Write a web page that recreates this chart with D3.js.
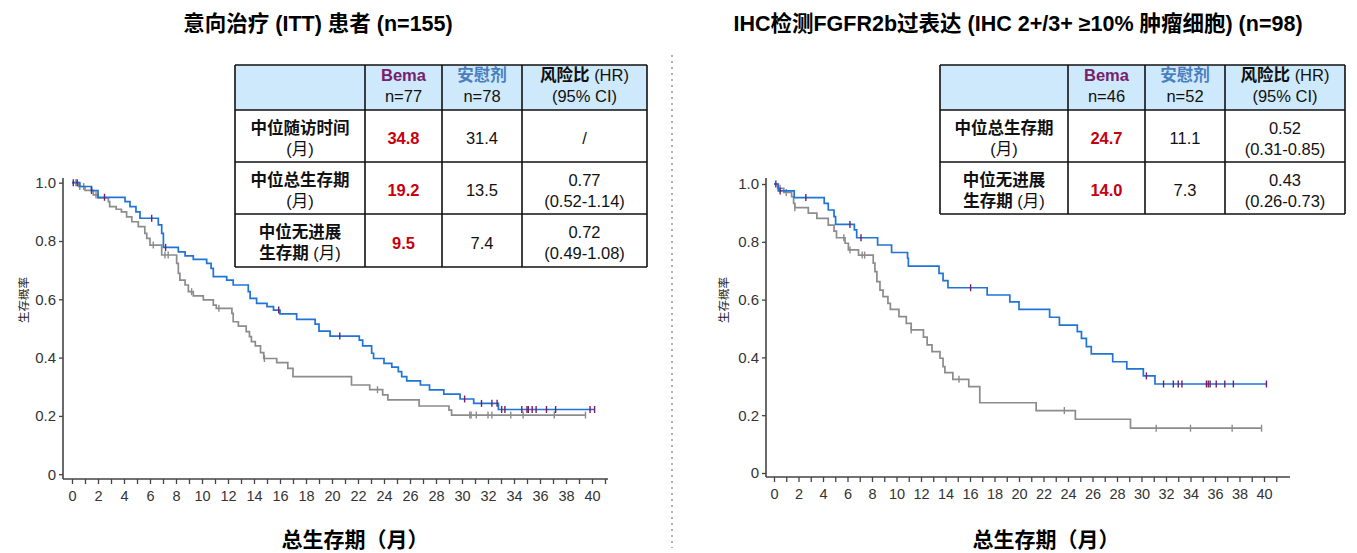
<!DOCTYPE html>
<html>
<head>
<meta charset="utf-8">
<title>总生存期 KM 曲线</title>
<script src="https://cdn.jsdelivr.net/npm/d3@7"></script>
<style>
body { margin: 0; background: #fff; }
text { font-family: "Liberation Sans", Arial, "Noto Sans CJK SC", sans-serif; }
</style>
</head>
<body>
<script>
// ---- data (months, survival probability) ----
var xTicks = d3.range(0, 42);
var yTicks = [0, 0.2, 0.4, 0.6, 0.8, 1.0];

var ittBemaSteps = [[0,1.0],[0.6,0.987],[1.5,0.973],[2.0,0.950],[4.08,0.935],[4.46,0.918],[4.92,0.900],
  [5.23,0.878],[6.64,0.855],[6.9,0.826],[7.03,0.778],[8.18,0.763],[8.7,0.749],[9.33,0.737],[10.36,0.723],
  [10.7,0.706],[10.87,0.678],[11.9,0.666],[12.4,0.649],[13.56,0.626],[13.7,0.603],[14.2,0.586],[15.0,0.575],
  [15.5,0.563],[16.0,0.55],[17.28,0.531],[18.7,0.515],[19.0,0.491],[19.85,0.474],[22.1,0.46],[22.36,0.44],
  [23.05,0.415],[23.2,0.397],[24.0,0.38],[24.6,0.367],[25.1,0.352],[25.36,0.335],[25.75,0.32],[26.8,0.306],
  [27.5,0.289],[28.6,0.275],[29.85,0.258],[30.9,0.243],[32.8,0.222]];
var ittBemaEnd = 40.2;
var ittBemaCensor = [0.1,0.4,1.5,2.5,6.13,7.2,15.9,20.6,30.2,31.5,32.3,32.7,33.05,33.3,34.6,35.0,35.1,35.4,
  35.7,36.5,37.2,39.85,40.2];

var ittPboSteps = [[0,1.0],[0.5,0.987],[1.0,0.974],[1.64,0.958],[2.0,0.948],[2.8,0.935],[2.9,0.918],[3.4,0.909],
  [3.8,0.90],[4.2,0.883],[4.6,0.866],[5.1,0.849],[5.6,0.826],[5.75,0.809],[6.0,0.786],[6.9,0.752],[8.05,0.723],
  [8.18,0.689],[8.3,0.666],[8.7,0.649],[8.95,0.626],[9.33,0.612],[10.1,0.598],[10.87,0.58],[11.1,0.569],
  [12.3,0.552],[12.4,0.523],[12.8,0.508],[13.4,0.489],[13.65,0.472],[13.8,0.455],[14.1,0.44],[14.5,0.417],
  [14.75,0.397],[15.75,0.383],[16.6,0.363],[17.0,0.335],[21.5,0.306],[22.9,0.29],[23.9,0.272],[24.3,0.255],
  [26.7,0.234],[29.0,0.22],[29.2,0.203]];
var ittPboEnd = 39.5;
var ittPboCensor = [0.3,0.6,0.9,1.85,6.25,7.15,7.4,9.2,11.3,14.8,23.5,30.6,30.7,31.1,32.0,32.3,33.75,34.7,37.1,39.5];

var fgfrBemaSteps = [[0,1.0],[0.35,0.976],[1.65,0.953],[4.1,0.933],[4.43,0.91],[4.9,0.887],[5.03,0.86],
  [6.56,0.841],[6.75,0.814],[8.46,0.789],[9.6,0.763],[10.9,0.743],[10.97,0.716],[13.47,0.691],[13.8,0.666],
  [14.2,0.641],[17.4,0.616],[19.25,0.592],[20.0,0.566],[22.5,0.539],[23.3,0.512],[24.76,0.489],[25.1,0.466],
  [25.5,0.437],[25.9,0.412],[27.65,0.385],[28.8,0.36],[30.15,0.336],[31.1,0.308]];
var fgfrBemaEnd = 40.2;
var fgfrBemaCensor = [0.15,0.5,2.6,6.2,7.1,16.05,30.4,31.8,32.6,33.0,33.3,35.3,35.45,35.6,36.1,36.8,37.5,40.2];

var fgfrPboSteps = [[0,1.0],[0.3,0.985],[0.8,0.971],[1.44,0.956],[1.6,0.933],[1.7,0.918],[2.8,0.899],[3.5,0.881],
  [4.43,0.858],[4.9,0.837],[5.1,0.814],[5.8,0.795],[6.07,0.772],[6.9,0.754],[8.1,0.726],[8.24,0.697],[8.4,0.662],
  [8.65,0.633],[8.9,0.61],[9.3,0.587],[9.5,0.566],[10.2,0.541],[10.8,0.518],[11.2,0.495],[12.2,0.47],[12.5,0.443],
  [12.9,0.42],[13.55,0.397],[13.8,0.368],[13.95,0.347],[14.6,0.324],[15.9,0.299],[16.8,0.243],[21.4,0.216],
  [24.6,0.186],[29.1,0.155]];
var fgfrPboEnd = 39.8;
var fgfrPboCensor = [0.5,1.0,1.7,5.7,6.2,7.2,7.4,11.2,15.1,23.7,31.2,34.0,37.4,39.8];

// tables
var ittHeader = [["", ""], ["Bema", "n=77"], ["安慰剂", "n=78"], ["风险比 (HR)", "(95% CI)"]];
var ittRowLabels = [["中位随访时间", "(月)"], ["中位总生存期", "(月)"], ["中位无进展", "生存期 (月)"]];
var ittBemaVals = ["34.8", "19.2", "9.5"];
var ittPboVals = ["31.4", "13.5", "7.4"];
var ittHR = [["/"], ["0.77", "(0.52-1.14)"], ["0.72", "(0.49-1.08)"]];

var fgfrHeader = [["", ""], ["Bema", "n=46"], ["安慰剂", "n=52"], ["风险比 (HR)", "(95% CI)"]];
var fgfrRowLabels = [["中位总生存期", "(月)"], ["中位无进展", "生存期 (月)"]];
var fgfrBemaVals = ["24.7", "14.0"];
var fgfrPboVals = ["11.1", "7.3"];
var fgfrHR = [["0.52", "(0.31-0.85)"], ["0.43", "(0.26-0.73)"]];

var titles = ["意向治疗 (ITT) 患者 (n=155)", "IHC检测FGFR2b过表达 (IHC 2+/3+ ≥10% 肿瘤细胞) (n=98)"];
var xTitle = "总生存期（月）";
var yTitle = "生存概率";

// ---- drawing ----
var W = 1357, H = 553;
var blue = "#1f74d6", grey = "#8c8c8c", plum = "#7a1d62";

var svg = d3.select("body").append("svg")
  .attr("width", W).attr("height", H);

svg.append("line")
  .attr("x1", 672).attr("x2", 672).attr("y1", 55).attr("y2", 548)
  .attr("stroke", "#b0b0b0").attr("stroke-width", 2).attr("stroke-dasharray", "2,4");

function survAt(steps, t) {
  var s = 1;
  steps.forEach(function(d) { if (d[0] <= t) s = d[1]; });
  return s;
}

function drawPanel(p) {
  var x = d3.scaleLinear().domain([0, 40]).range([p.x0, p.x40]);
  var y = d3.scaleLinear().domain([0, 1]).range([p.y0, p.y1]);
  var g = svg.append("g");

  // axes
  var xa = g.append("g").attr("transform", "translate(0," + p.axisY + ")")
    .call(d3.axisBottom(x).tickValues(xTicks).tickSize(5).tickSizeOuter(0)
      .tickFormat(function(d) { return d % 2 === 0 ? d : ""; }));
  xa.select(".domain").remove();
  xa.selectAll("line").attr("stroke", "#444").attr("stroke-width", 1.3);
  xa.selectAll("text").attr("font-size", 14.5).attr("fill", "#333").attr("dy", "0.95em");
  g.append("line").attr("x1", p.axisX).attr("x2", p.axisEnd).attr("y1", p.axisY).attr("y2", p.axisY)
    .attr("stroke", "#444").attr("stroke-width", 1.6);

  var ya = g.append("g").attr("transform", "translate(" + p.axisX + ",0)")
    .call(d3.axisLeft(y).tickValues(yTicks).tickSize(4).tickSizeOuter(0)
      .tickFormat(function(d) { return d === 0 ? "0" : d3.format(".1f")(d); }));
  ya.select(".domain").remove();
  ya.selectAll("line").attr("stroke", "#444").attr("stroke-width", 1.3);
  ya.selectAll("text").attr("font-size", 15).attr("fill", "#333");
  g.append("line").attr("x1", p.axisX).attr("x2", p.axisX).attr("y1", 178).attr("y2", p.axisY)
    .attr("stroke", "#444").attr("stroke-width", 1.6);

  var line = d3.line().curve(d3.curveStepAfter)
    .x(function(d) { return x(d[0]); }).y(function(d) { return y(d[1]); });

  p.curves.forEach(function(c) {
    var pts = c.steps.concat([[c.end, c.steps[c.steps.length - 1][1]]]);
    g.append("path").datum(pts).attr("d", line)
      .attr("fill", "none").attr("stroke", c.color).attr("stroke-width", 1.7);
    g.selectAll(null).data(c.censor).enter().append("line")
      .attr("x1", function(t) { return x(t); }).attr("x2", function(t) { return x(t); })
      .attr("y1", function(t) { return y(survAt(c.steps, t)) - 3.5; })
      .attr("y2", function(t) { return y(survAt(c.steps, t)) + 3.5; })
      .attr("stroke", c.mark).attr("stroke-width", 1.4);
  });

  // labels
  svg.append("text").attr("x", p.titleX).attr("y", 25).attr("text-anchor", "middle")
    .attr("dominant-baseline", "middle").attr("font-size", 21.5).attr("font-weight", "bold")
    .text(p.title);
  svg.append("text").attr("x", p.xTitleX).attr("y", 541).attr("text-anchor", "middle")
    .attr("dominant-baseline", "middle").attr("font-size", 21).attr("font-weight", "bold")
    .text(xTitle);
  svg.append("text").attr("transform", "translate(" + p.yTitleX + ",300) rotate(-90)")
    .attr("text-anchor", "middle").attr("dominant-baseline", "middle").attr("font-size", 11.5)
    .attr("fill", "#222").text(yTitle);
}

// text with bold outside parentheses, normal inside
function richLine(sel, str, boldOuter) {
  var parts = str.split(/(\([^)]*\))/).filter(function(s) { return s.length; });
  parts.forEach(function(s) {
    var inParen = s.charAt(0) === "(";
    sel.append("tspan").text(s)
      .attr("font-weight", boldOuter && !inParen ? "bold" : "normal");
  });
}

function drawTable(t) {
  var g = svg.append("g");
  var cols = t.cols, rows = t.rows;
  g.append("rect").attr("x", cols[0]).attr("y", rows[0])
    .attr("width", cols[cols.length - 1] - cols[0]).attr("height", rows[1] - rows[0])
    .attr("fill", "#cde9fb");
  rows.forEach(function(r) {
    g.append("line").attr("x1", cols[0]).attr("x2", cols[cols.length - 1]).attr("y1", r).attr("y2", r)
      .attr("stroke", "#111").attr("stroke-width", 1.6);
  });
  cols.forEach(function(c) {
    g.append("line").attr("x1", c).attr("x2", c).attr("y1", rows[0]).attr("y2", rows[rows.length - 1])
      .attr("stroke", "#111").attr("stroke-width", 1.6);
  });

  function cell(ci, ri, lines, style) {
    var cx = (cols[ci] + cols[ci + 1]) / 2;
    var cy = (rows[ri] + rows[ri + 1]) / 2 + (ri === 0 ? 0 : 4);
    lines.forEach(function(str, li) {
      var off = lines.length === 1 ? 0 : (li === 0 ? -10.5 : 10.5);
      var el = g.append("text").attr("x", cx).attr("y", cy + off)
        .attr("text-anchor", "middle").attr("dominant-baseline", "middle")
        .attr("font-size", 16.5).attr("fill", "#111");
      style(el, str, li);
    });
  }

  // header
  cell(1, 0, t.header[1], function(el, s, li) {
    if (li === 0) el.text(s).attr("font-weight", "bold").attr("fill", "#77206c"); else el.text(s);
  });
  cell(2, 0, t.header[2], function(el, s, li) {
    if (li === 0) el.text(s).attr("font-weight", "bold").attr("fill", "#4a7ebe"); else el.text(s);
  });
  cell(3, 0, t.header[3], function(el, s) { richLine(el, s, true); });

  t.labels.forEach(function(lab, i) {
    cell(0, i + 1, lab, function(el, s) { richLine(el, s, true); });
    cell(1, i + 1, [t.bema[i]], function(el, s) {
      el.text(s).attr("font-weight", "bold").attr("fill", "#c8000b");
    });
    cell(2, i + 1, [t.pbo[i]], function(el, s) { el.text(s); });
    cell(3, i + 1, t.hr[i], function(el, s) { el.text(s); });
  });
}

drawPanel({
  x0: 72, x40: 592, y0: 474.2, y1: 182.7, axisX: 63, axisY: 479, axisEnd: 608,
  titleX: 318, xTitleX: 355, yTitleX: 25, title: titles[0],
  curves: [
    { steps: ittPboSteps, end: ittPboEnd, censor: ittPboCensor, color: grey, mark: grey },
    { steps: ittBemaSteps, end: ittBemaEnd, censor: ittBemaCensor, color: blue, mark: plum }
  ]
});
drawPanel({
  x0: 774, x40: 1264, y0: 473, y1: 184, axisX: 766, axisY: 477, axisEnd: 1290,
  titleX: 1018, xTitleX: 1046, yTitleX: 725, title: titles[1],
  curves: [
    { steps: fgfrPboSteps, end: fgfrPboEnd, censor: fgfrPboCensor, color: grey, mark: grey },
    { steps: fgfrBemaSteps, end: fgfrBemaEnd, censor: fgfrBemaCensor, color: blue, mark: plum }
  ]
});

drawTable({
  cols: [235, 365, 442, 522, 647], rows: [65, 110, 162, 214, 267],
  header: ittHeader, labels: ittRowLabels, bema: ittBemaVals, pbo: ittPboVals, hr: ittHR
});
drawTable({
  cols: [940, 1068, 1145, 1225, 1345], rows: [65, 110, 162, 214],
  header: fgfrHeader, labels: fgfrRowLabels, bema: fgfrBemaVals, pbo: fgfrPboVals, hr: fgfrHR
});
</script>
</body>
</html>
